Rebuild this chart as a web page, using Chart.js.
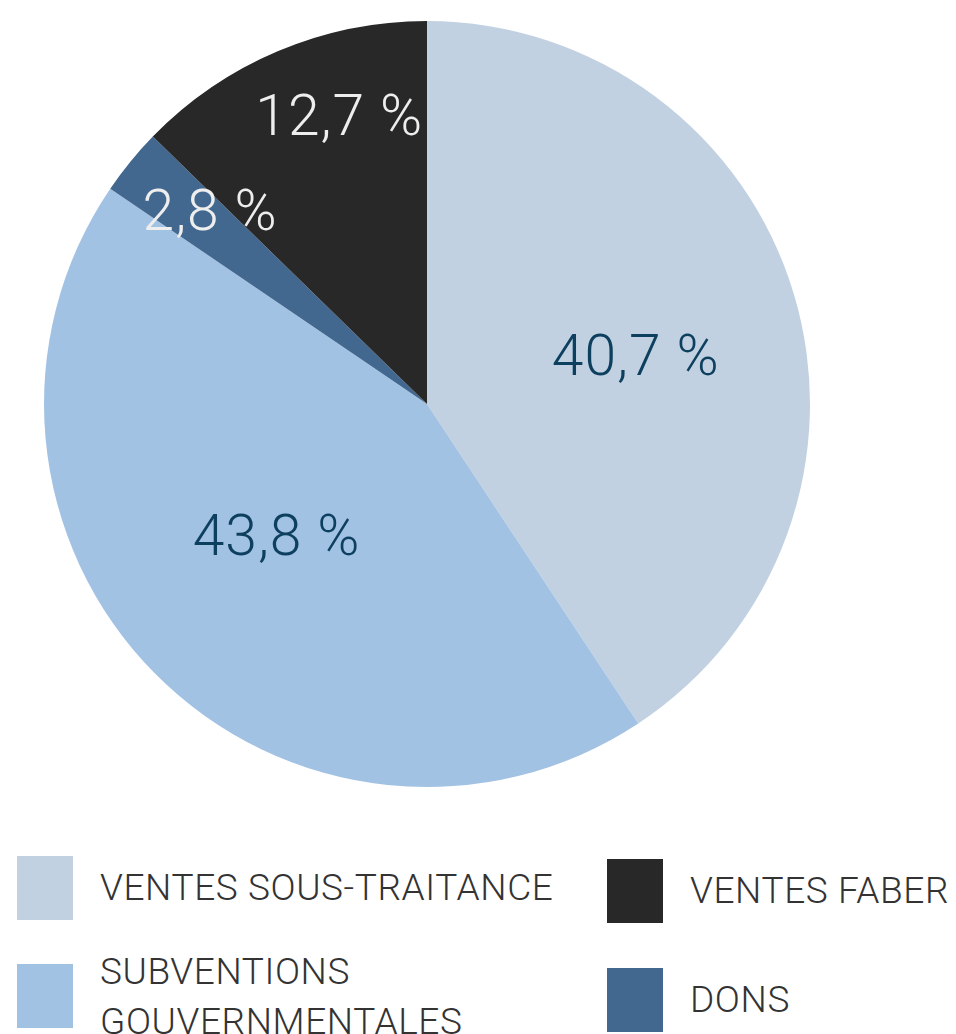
<!DOCTYPE html>
<html>
<head>
<meta charset="utf-8">
<script src="https://cdn.jsdelivr.net/npm/chart.js@4"></script>
<style>
    body { margin: 0; background: #fff; width: 956px; height: 1034px; overflow: hidden; position: relative; font-family: Roboto, sans-serif; }
    #pie { position: absolute; left: 0; top: 0; }
    .legend-item { position: absolute; display: flex; align-items: center; }
    .legend-box { width: 56px; height: 64px; flex: none; }
    .legend-text { color: #333; font-weight: 300; font-size: 37px; letter-spacing: 0.6px; line-height: 50px; margin-left: 27px; white-space: nowrap; }
</style>
</head>
<body>
<canvas id="pie" width="854" height="808"></canvas>
<div id="legend"></div>
<script>
// Data
const labels = ['VENTES SOUS-TRAITANCE', 'SUBVENTIONS GOUVERNMENTALES', 'DONS', 'VENTES FABER'];
const values = [40.7, 43.8, 2.8, 12.7];
const sliceColors = ['#c1d1e1', '#a2c2e4', '#43688f', '#282828'];
const labelColors = ['#0d3f5e', '#0d3f5e', '#eeeeee', '#eeeeee'];

// label placement: fraction of radius, angle shift in degrees
const labelRadius = [0.56, 0.52, 0.76, 0.79];
const labelShift = [3.4, 3.7, 2.6, 6];

const pieLabels = {
    id: 'pieLabels',
    afterDatasetsDraw(chart) {
        const ctx = chart.ctx;
        const meta = chart.getDatasetMeta(0);
        ctx.save();
        ctx.font = '300 57px Roboto';
        ctx.letterSpacing = '1px';
        ctx.textAlign = 'center';
        ctx.textBaseline = 'middle';
        meta.data.forEach((arc, i) => {
            const mid = (arc.startAngle + arc.endAngle) / 2 + labelShift[i] * Math.PI / 180;
            const r = arc.outerRadius * labelRadius[i];
            const x = arc.x + Math.cos(mid) * r;
            const y = arc.y + Math.sin(mid) * r + 6;
            ctx.fillStyle = labelColors[i];
            ctx.fillText(values[i].toFixed(1).replace('.', ',') + ' %', x, y);
        });
        ctx.restore();
    }
};

new Chart(document.getElementById('pie').getContext('2d'), {
    type: 'pie',
    data: {
        labels: labels,
        datasets: [{
            data: values,
            backgroundColor: sliceColors,
            borderWidth: 0
        }]
    },
    options: {
        responsive: false,
        animation: false,
        layout: { padding: 21 },
        plugins: {
            legend: { display: false },
            tooltip: { enabled: false }
        }
    },
    plugins: [pieLabels]
});

// HTML legend, two columns
const legendPos = [
    { left: 17, top: 856 },
    { left: 17, top: 964 },
    { left: 607, top: 968 },
    { left: 607, top: 859 }
];
const legend = document.getElementById('legend');
legendPos.forEach((p, i) => {
    const item = document.createElement('div');
    item.className = 'legend-item';
    item.style.left = p.left + 'px';
    item.style.top = p.top + 'px';
    const box = document.createElement('div');
    box.className = 'legend-box';
    box.style.background = sliceColors[i];
    const text = document.createElement('div');
    text.className = 'legend-text';
    if (i === 1) {
        item.style.alignItems = 'flex-start';
        text.innerHTML = 'SUBVENTIONS<br>GOUVERNMENTALES';
        text.style.marginTop = '-17px';
    } else {
        text.textContent = labels[i];
    }
    item.appendChild(box);
    item.appendChild(text);
    legend.appendChild(item);
});
</script>
</body>
</html>
